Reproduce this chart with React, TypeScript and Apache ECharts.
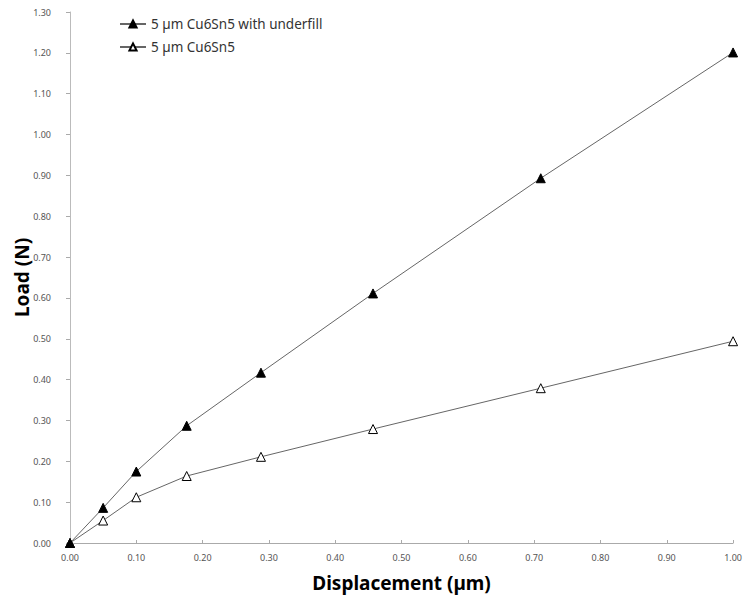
import React, { useEffect, useRef } from "react";
import * as echarts from "echarts";

const displacement = [0, 0.05, 0.1, 0.176, 0.288, 0.457, 0.71, 1.0];
const loadUnderfill = [0, 0.086, 0.175, 0.287, 0.417, 0.611, 0.893, 1.201];
const loadPlain = [0, 0.055, 0.112, 0.164, 0.211, 0.279, 0.379, 0.494];
const seriesNames = ["5 µm Cu6Sn5 with underfill", "5 µm Cu6Sn5"];

export default function App() {
  const ref = useRef<HTMLDivElement>(null);
  useEffect(() => {
    document.body.style.margin = "0";
    const chart = echarts.init(ref.current!, undefined, { renderer: "svg" });
    const font = "'Noto Sans', 'Liberation Sans', sans-serif";
    chart.setOption({
      animation: false,
      backgroundColor: "#ffffff",
      textStyle: { fontFamily: font },
      grid: { left: 70, right: 11, top: 12, bottom: 58 },
      legend: {
        orient: "vertical",
        left: 114,
        top: 12,
        itemWidth: 26,
        itemHeight: 9,
        itemGap: 9,
        textStyle: { fontSize: 13.5, color: "#333", fontFamily: font },
        data: seriesNames,
      },
      xAxis: {
        type: "value",
        min: 0,
        max: 1,
        interval: 0.1,
        name: "Displacement (µm)",
        nameLocation: "middle",
        nameGap: 30,
        nameMoveOverlap: false,
        nameTextStyle: { fontSize: 19, fontWeight: "bold", color: "#000", fontFamily: font },
        axisLine: { show: true, lineStyle: { color: "#aaaaaa", width: 1 } },
        axisTick: { show: true, inside: true, length: 3, lineStyle: { color: "#aaaaaa" } },
        axisLabel: { fontSize: 9, color: "#555", margin: 10, formatter: (v: number) => v.toFixed(2) },
        splitLine: { show: false },
      },
      yAxis: {
        type: "value",
        min: 0,
        max: 1.3,
        interval: 0.1,
        name: "Load (N)",
        nameLocation: "middle",
        nameGap: 39,
        nameMoveOverlap: false,
        nameTextStyle: { fontSize: 19, fontWeight: "bold", color: "#000", fontFamily: font },
        axisLine: { show: true, lineStyle: { color: "#bbbbbb", width: 1 } },
        axisTick: { show: true, inside: false, length: 4, lineStyle: { color: "#aaaaaa" } },
        axisLabel: { fontSize: 9, color: "#555", margin: 19, formatter: (v: number) => v.toFixed(2) },
        splitLine: { show: false },
      },
      series: [
        {
          name: seriesNames[0],
          type: "line",
          data: displacement.map((x, i) => [x, loadUnderfill[i]]),
          symbol: "triangle",
          symbolSize: 9,
          lineStyle: { color: "#666", width: 1 },
          itemStyle: { color: "#000", borderColor: "#000", borderWidth: 1 },
          z: 3,
        },
        {
          name: seriesNames[1],
          type: "line",
          data: displacement.map((x, i) => [x, loadPlain[i]]),
          symbol: "triangle",
          symbolSize: 9,
          showAllSymbol: true,
          lineStyle: { color: "#666", width: 1 },
          itemStyle: { color: "#ffffff", borderColor: "#000", borderWidth: 1 },
          z: 2,
        },
      ],
    });
    return () => chart.dispose();
  }, []);
  return <div ref={ref} style={{ width: 745, height: 601 }} />;
}
